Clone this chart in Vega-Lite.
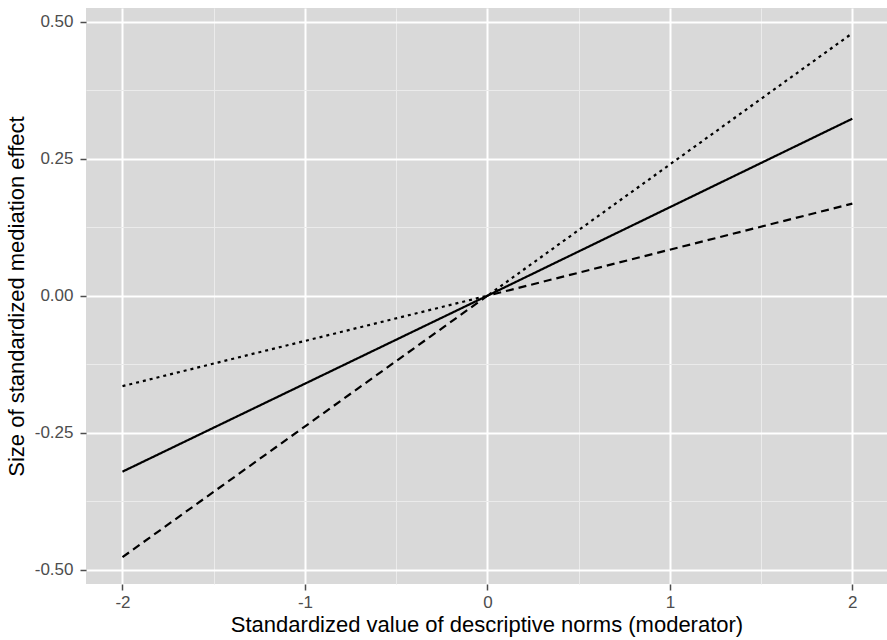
{
  "$schema": "https://vega.github.io/schema/vega-lite/v6.json",
  "width": 801,
  "height": 576,
  "autosize": {"type": "none"},
  "padding": {"left": 86, "top": 8, "right": 0, "bottom": 56},
  "background": "white",
  "config": {
    "view": {"fill": "#d9d9d9", "stroke": null},
    "font": "Liberation Sans"
  },
  "data": {
    "values": [
      {"x": -2, "y": -0.321, "series": "solid"},
      {"x": 0, "y": 0, "series": "solid"},
      {"x": 2, "y": 0.323, "series": "solid"},
      {"x": -2, "y": -0.165, "series": "dotted"},
      {"x": 0, "y": 0, "series": "dotted"},
      {"x": 2, "y": 0.479, "series": "dotted"},
      {"x": -2, "y": -0.477, "series": "dashed"},
      {"x": 0, "y": 0, "series": "dashed"},
      {"x": 2, "y": 0.168, "series": "dashed"}
    ]
  },
  "resolve": {"axis": {"x": "independent", "y": "independent"}},
  "layer": [
    {
      "mark": {"type": "line", "opacity": 0},
      "encoding": {
        "x": {"field": "x", "type": "quantitative", "scale": {"domain": [-2.2, 2.19], "nice": false, "zero": false},
          "axis": {"orient": "bottom", "values": [-1.5, -0.5, 0.5, 1.5], "grid": true, "gridColor": "#ebebeb", "gridWidth": 1, "labels": false, "ticks": false, "domain": false, "title": null}},
        "y": {"field": "y", "type": "quantitative", "scale": {"domain": [-0.526, 0.525], "nice": false, "zero": false},
          "axis": {"orient": "left", "values": [-0.375, -0.125, 0.125, 0.375], "grid": true, "gridColor": "#ebebeb", "gridWidth": 1, "labels": false, "ticks": false, "domain": false, "title": null}},
        "detail": {"field": "series"}
      }
    },
    {
      "mark": {"type": "line", "color": "black", "strokeWidth": 2.2},
      "encoding": {
        "x": {"field": "x", "type": "quantitative",
          "axis": {"orient": "bottom", "values": [-2, -1, 0, 1, 2], "format": "d", "labelExpr": "replace(datum.label, '\u2212', '-')",
            "grid": true, "gridColor": "white", "gridWidth": 2,
            "domain": false, "tickColor": "#4d4d4d", "tickSize": 6, "tickWidth": 1.5, "labelPadding": 4,
            "labelFontSize": 17, "labelColor": "#4d4d4d", "labelFont": "Liberation Sans",
            "title": "Standardized value of descriptive norms (moderator)", "titleFontSize": 22, "titleFontWeight": "normal",
            "titleColor": "black", "titlePadding": 4, "titleFont": "Liberation Sans"}},
        "y": {"field": "y", "type": "quantitative",
          "axis": {"orient": "left", "values": [-0.5, -0.25, 0, 0.25, 0.5], "format": ".2f", "labelExpr": "replace(datum.label, '\u2212', '-')",
            "grid": true, "gridColor": "white", "gridWidth": 2,
            "domain": false, "tickColor": "#4d4d4d", "tickSize": 6, "tickWidth": 1.5, "labelPadding": 7,
            "labelFontSize": 17, "labelColor": "#4d4d4d", "labelFont": "Liberation Sans",
            "title": "Size of standardized mediation effect", "titleFontSize": 22, "titleFontWeight": "normal",
            "titleColor": "black", "titlePadding": 6, "titleFont": "Liberation Sans"}},
        "strokeDash": {"field": "series", "type": "nominal",
          "scale": {"domain": ["solid", "dashed", "dotted"], "range": [[1, 0], [8, 5], [3, 4]]},
          "legend": null}
      }
    }
  ]
}
